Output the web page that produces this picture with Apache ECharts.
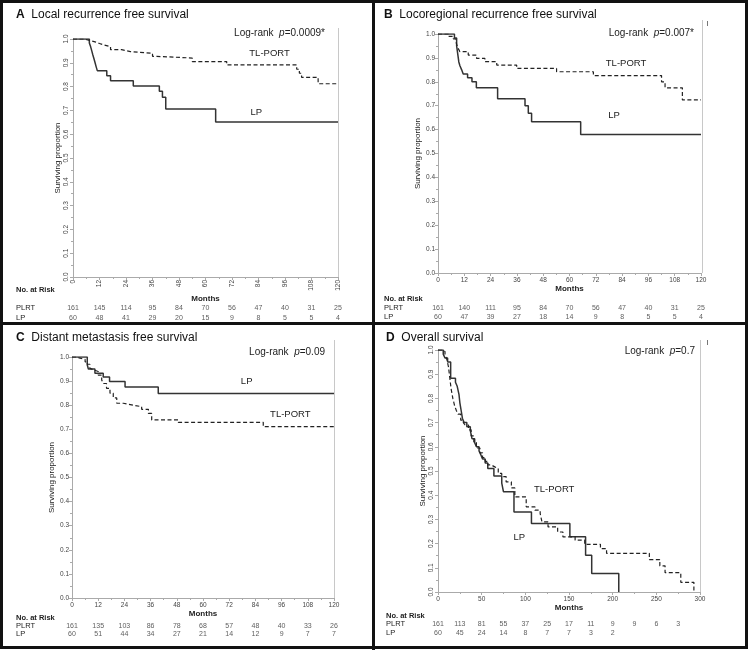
<!DOCTYPE html>
<html><head><meta charset="utf-8">
<script src="https://cdn.jsdelivr.net/npm/echarts@6/dist/echarts.min.js"></script>
<style>html,body{margin:0;padding:0;background:#fff}#c{width:748px;height:650px}</style>
</head><body><div id="c"></div><script>
// ---------- DATA ----------
// Kaplan-Meier step points [month, surviving proportion]
const aLP = [[0,1],[7.4,0.983],[8,0.967],[8.5,0.95],[9,0.933],[9.5,0.917],[10,0.9],[10.5,0.883],[11,0.867],[15.3,0.846],[17,0.825],[27.3,0.803],[39.1,0.78],[40.5,0.755],[42,0.706],[64.6,0.651],[120,0.651]];
const aTL = [[0,1],[5,0.994],[7.5,0.988],[10,0.981],[12,0.975],[14,0.968],[17,0.955],[22,0.947],[26,0.94],[36,0.927],[38,0.92],[54,0.905],[69.6,0.891],[101.3,0.873],[102.5,0.856],[103.5,0.839],[111,0.812],[120,0.812]];
const bLP = [[0,1],[7.5,0.983],[8.5,0.95],[9,0.917],[9.5,0.883],[10,0.867],[10.8,0.85],[11.5,0.833],[13.5,0.817],[15.5,0.8],[17.5,0.775],[27.2,0.729],[39.7,0.7],[41.2,0.668],[42.7,0.633],[65.1,0.58],[120,0.58]];
const bTL = [[0,1],[4.7,0.99],[7,0.98],[8.1,0.97],[8.6,0.955],[9.2,0.94],[10,0.926],[13.8,0.912],[17.6,0.898],[21.4,0.884],[26.8,0.87],[35.9,0.856],[54.1,0.842],[70.9,0.826],[102,0.8],[103.6,0.775],[111.5,0.724],[120,0.724]];
const cLP = [[0,1],[7,0.967],[7.5,0.95],[10.5,0.933],[14.3,0.917],[17.2,0.898],[24.3,0.876],[39.5,0.849],[120,0.849]];
const cTL = [[0,1],[2.1,0.995],[3.7,0.99],[6,0.98],[7,0.97],[8.2,0.953],[9,0.945],[10.5,0.94],[12,0.925],[13.6,0.905],[14.3,0.89],[15.8,0.87],[17.4,0.85],[18.9,0.83],[20.5,0.808],[23.5,0.8],[28.1,0.794],[31.9,0.783],[35,0.766],[36.5,0.739],[48.7,0.729],[87.6,0.711],[120,0.711]];
const dLP = [[0,1],[6,0.983],[8,0.967],[11,0.95],[14.5,0.883],[20,0.867],[22,0.85],[24,0.817],[25,0.783],[26.5,0.75],[28,0.717],[30,0.7],[33,0.683],[37,0.667],[39,0.633],[42,0.617],[44,0.6],[47,0.583],[49,0.567],[51,0.55],[54,0.533],[57,0.51],[64,0.479],[73,0.45],[75,0.414],[87,0.331],[107,0.283],[151,0.228],[169,0.152],[176,0.076],[207,0]];
const dTL = [[0,1],[5,0.994],[8,0.981],[10,0.963],[12,0.93],[13,0.9],[14,0.87],[15,0.84],[17,0.8],[19,0.77],[21,0.75],[23,0.735],[26,0.71],[29,0.7],[31,0.69],[35,0.67],[38,0.645],[41,0.62],[44,0.595],[48,0.575],[51,0.555],[54,0.54],[57,0.525],[61,0.517],[65,0.51],[69,0.49],[73,0.477],[78,0.455],[84,0.43],[88,0.393],[101,0.352],[111,0.338],[117,0.324],[119,0.29],[126,0.269],[137,0.248],[143,0.228],[157,0.214],[168,0.197],[186,0.179],[193,0.16],[242,0.134],[254,0.108],[260,0.08],[278,0.04],[293,0]];

// Numbers at risk
const riskMonths120 = [0,12,24,36,48,60,72,84,96,108,120];
const riskMonths300 = [0,25,50,75,100,125,150,175,200,225,250,275];
const aRiskPLRT = [161,145,114,95,84,70,56,47,40,31,25];
const aRiskLP   = [60,48,41,29,20,15,9,8,5,5,4];
const bRiskPLRT = [161,140,111,95,84,70,56,47,40,31,25];
const bRiskLP   = [60,47,39,27,18,14,9,8,5,5,4];
const cRiskPLRT = [161,135,103,86,78,68,57,48,40,33,26];
const cRiskLP   = [60,51,44,34,27,21,14,12,9,7,7];
const dRiskPLRT = [161,113,81,55,37,25,17,11,9,9,6,3];
const dRiskLP   = [60,45,24,14,8,7,7,3,2];

const riskRows = ['PLRT','LP'];
const titles = ['Local recurrence free survival','Locoregional recurrence free survival','Distant metastasis free survival','Overall survival'];
const letters = ['A','B','C','D'];
const pValues = ['0.0009*','0.007*','0.09','0.7'];
// curve label anchor points in data units [month, proportion]
const tlLabelAt = [[89,0.94],[85.8,0.879],[100,0.763],[133,0.426]];
const lpLabelAt = [[83,0.693],[80.3,0.661],[80,0.9],[93,0.227]];

// ---------- LAYOUT ----------
const FONT = '"Liberation Sans", Arial, Helvetica, sans-serif';
const L = [
  {plot:{left:73,top:39,width:265,height:238}, risk:{top:303,height:20}, xmax:120, xint:12, xrot:90, yrot:90, px:16, ynameGap:9, xnameGap:9, titleY:15, logX:325, logY:33, noRiskY:290, riskM:riskMonths120, rp:aRiskPLRT, rl:aRiskLP, lp:aLP, tl:aTL, rightLine:[338,28,277], tick:null},
  {plot:{left:438,top:34,width:263,height:239}, risk:{top:303.5,height:18}, xmax:120, xint:12, xrot:0, yrot:0, px:384, ynameGap:7, xnameGap:9, titleY:15, logX:694, logY:33, noRiskY:299, riskM:riskMonths120, rp:bRiskPLRT, rl:bRiskLP, lp:bLP, tl:bTL, rightLine:[702,20,273], tick:[707,21,26]},
  {plot:{left:72,top:357,width:262,height:241}, risk:{top:622,height:16}, xmax:120, xint:12, xrot:0, yrot:0, px:16, ynameGap:12, xnameGap:7, titleY:338, logX:325, logY:352, noRiskY:618, riskM:riskMonths120, rp:cRiskPLRT, rl:cRiskLP, lp:cLP, tl:cTL, rightLine:[334,340,598], tick:null},
  {plot:{left:438,top:350,width:262,height:242}, risk:{top:619.5,height:18}, xmax:300, xint:50, xrot:0, yrot:90, px:386, ynameGap:8, xnameGap:9, titleY:338, logX:695, logY:351, noRiskY:616, riskM:riskMonths300, rp:dRiskPLRT, rl:dRiskLP, lp:dLP, tl:dTL, rightLine:[700,340,592], tick:[707,340,345]}
];

const grid=[], xAxis=[], yAxis=[], series=[], graphic=[];
const axisGrey = '#aaaaaa', labelCol = '#444';

L.forEach((p,i)=>{
  const gi = grid.length;
  grid.push(Object.assign({}, p.plot));
  grid.push({left:p.plot.left, width:p.plot.width, top:p.risk.top, height:p.risk.height});
  xAxis.push({gridIndex:gi, type:'value', min:0, max:p.xmax, interval:p.xint,
    axisLine:{lineStyle:{color:axisGrey}}, axisTick:{length:3,lineStyle:{color:axisGrey}},
    minorTick:{show:true, splitNumber:2, length:2, lineStyle:{color:axisGrey}},
    splitLine:{show:false},
    axisLabel:{fontSize:6.5, color:labelCol, fontFamily:FONT, rotate:p.xrot, margin:p.xrot?3:4, showMaxLabel:true},
    name:'Months', nameLocation:'middle', nameGap:p.xnameGap,
    nameTextStyle:{fontSize:8, fontWeight:'bold', color:'#222', fontFamily:FONT}});
  yAxis.push({gridIndex:gi, type:'value', min:0, max:1, interval:0.1,
    axisLine:{show:true, lineStyle:{color:axisGrey}}, axisTick:{show:true,length:3,lineStyle:{color:axisGrey}},
    minorTick:{show:true, splitNumber:2, length:2, lineStyle:{color:axisGrey}},
    splitLine:{show:false},
    axisLabel:{fontSize:6.5, color:labelCol, fontFamily:FONT, rotate:p.yrot, margin:3, formatter:v=>v.toFixed(1)},
    name:'Surviving proportion', nameLocation:'middle', nameGap:p.ynameGap,
    nameTextStyle:{fontSize:8, color:'#222', fontFamily:FONT}});
  xAxis.push({gridIndex:gi+1, type:'value', min:0, max:p.xmax, show:false});
  yAxis.push({gridIndex:gi+1, type:'category', data:riskRows, inverse:true,
    axisLine:{show:false}, axisTick:{show:false}, splitLine:{show:false},
    axisLabel:{interval:0, align:'left', margin:p.plot.left - p.px, fontSize:7.5, color:'#222', fontFamily:FONT}});

  const lineBase = {type:'line', step:'end', showSymbol:false, symbol:'none', xAxisIndex:gi, yAxisIndex:gi, animation:false, z:3};
  const mk = (txt, at)=>({symbol:'circle', symbolSize:0, silent:true,
      label:{show:true, position:'inside', formatter:txt, fontSize:9.5, color:'#222', fontFamily:FONT},
      data:[{coord:at}]});
  series.push(Object.assign({}, lineBase, {name:'LP'+i, data:p.lp, lineStyle:{color:'#333', width:1.5, type:'solid'}, markPoint:mk('LP', lpLabelAt[i])}));
  series.push(Object.assign({}, lineBase, {name:'TL'+i, data:p.tl, lineStyle:{color:'#222', width:1.2, type:[4,2.5]}, markPoint:mk('TL-PORT', tlLabelAt[i])}));
  const rd = [];
  p.rp.forEach((v,k)=>rd.push([p.riskM[k],'PLRT',v]));
  p.rl.forEach((v,k)=>rd.push([p.riskM[k],'LP',v]));
  series.push({type:'scatter', xAxisIndex:gi+1, yAxisIndex:gi+1, data:rd, symbolSize:1, itemStyle:{color:'rgba(0,0,0,0)'}, animation:false, silent:true,
    label:{show:true, position:'inside', formatter:q=>String(q.value[2]), fontSize:7, color:'#333', fontFamily:FONT}});

  // decorations
  graphic.push({type:'text', x:p.px, y:p.titleY, style:{text:'{b|'+letters[i]+'}  {n|'+titles[i]+'}', verticalAlign:'middle',
    rich:{b:{fontSize:12,fontWeight:'bold',fontFamily:FONT,fill:'#111'}, n:{fontSize:12,fontFamily:FONT,fill:'#111'}}}});
  graphic.push({type:'text', x:p.logX, y:p.logY, style:{text:'{n|Log-rank  }{i|p}{n|='+pValues[i]+'}', align:'right', verticalAlign:'middle',
    rich:{n:{fontSize:10,fontFamily:FONT,fill:'#222'}, i:{fontSize:10,fontStyle:'italic',fontFamily:FONT,fill:'#222'}}}});
  graphic.push({type:'text', x:p.px, y:p.noRiskY, style:{text:'No. at Risk', verticalAlign:'middle', font:'bold 7.5px '+FONT, fill:'#222'}});
  const r = p.rightLine;
  graphic.push({type:'line', shape:{x1:r[0]+0.5,y1:r[1],x2:r[0]+0.5,y2:r[2]}, style:{stroke:'#c8c8c8', lineWidth:1}});
  if (p.tick) graphic.push({type:'line', shape:{x1:p.tick[0]+0.5,y1:p.tick[1],x2:p.tick[0]+0.5,y2:p.tick[2]}, style:{stroke:'#777', lineWidth:1}});
});

// panel borders
graphic.push({type:'rect', shape:{x:1.5,y:1.5,width:745,height:646}, style:{fill:'none', stroke:'#111', lineWidth:3}, z:10});
graphic.push({type:'line', shape:{x1:373.5,y1:0,x2:373.5,y2:650}, style:{stroke:'#111', lineWidth:3}, z:10});
graphic.push({type:'line', shape:{x1:0,y1:323.5,x2:748,y2:323.5}, style:{stroke:'#111', lineWidth:3}, z:10});

const chart = echarts.init(document.getElementById('c'), null, {renderer:'canvas'});
chart.setOption({animation:false, backgroundColor:'#fff', textStyle:{fontFamily:FONT}, grid, xAxis, yAxis, series, graphic});
</script></body></html>
